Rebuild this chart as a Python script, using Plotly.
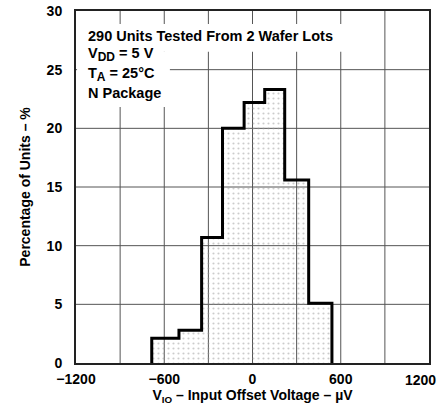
import plotly.graph_objects as go

# Histogram data
bin_edges = [-685, -500, -346, -204, -57, 83, 219, 382, 540]
percent = [2.1, 2.8, 10.7, 20.0, 22.2, 23.3, 15.6, 5.1]

x_gridvals = [-900, -600, -300, 0, 300, 600, 900]
x_tickvals = [-1200, -600, 0, 600, 1200]
x_ticktext = ["\u22121200", "\u2212600", "0", "600", "1200"]
y_tickvals = [0, 5, 10, 15, 20, 25, 30]

SUB = '<sub><span style="font-size:12px">{}</span></sub>'
info_lines = [
    "290 Units Tested From 2 Wafer Lots",
    "V" + SUB.format("DD") + " = 5 V",
    "T" + SUB.format("A") + " = 25\u00b0C",
    "N Package",
]

FONT = "Liberation Sans, Arial, Helvetica, sans-serif"
GRID = "#555"

# step outline built from the bin edges / heights
xs = [bin_edges[0]] + bin_edges[:-1] + [bin_edges[-1]]
ys = [0] + percent + [0]

fig = go.Figure()
fig.add_trace(go.Scatter(
    x=xs, y=ys, mode="lines", line=dict(shape="hv", color="black", width=3),
    fill="tozeroy", fillcolor="rgba(0,0,0,0)",
    fillpattern=dict(shape=".", fgcolor="#999999", bgcolor="rgba(0,0,0,0)",
                     size=5, solidity=0.15),
    hoverinfo="skip", showlegend=False,
))

# grid lines (drawn as shapes so the text block can mask them)
for v in x_gridvals:
    fig.add_shape(type="line", xref="x", yref="paper", x0=v, x1=v, y0=0, y1=1,
                  line=dict(color=GRID, width=1), layer="below")
for v in y_tickvals[1:-1]:
    fig.add_shape(type="line", xref="paper", yref="y", x0=0, x1=1, y0=v, y1=v,
                  line=dict(color=GRID, width=1), layer="below")

# white masks behind the info text (hide grid)
fig.add_shape(type="rect", xref="paper", yref="paper", x0=0.003, x1=0.762,
              y0=0.884, y1=0.963, fillcolor="white", line_width=0, layer="below")
fig.add_shape(type="rect", xref="paper", yref="paper", x0=0.003, x1=0.266,
              y0=0.727, y1=0.885, fillcolor="white", line_width=0, layer="below")

ys_px = [0.929, 0.876, 0.821, 0.767]
for t, yy in zip(info_lines, ys_px):
    fig.add_annotation(text=t, xref="paper", yref="paper", x=0.028, y=yy,
                       xanchor="left", yanchor="middle", showarrow=False,
                       font=dict(family=FONT, size=14.5, color="black", weight="bold"))

# last x tick label, right-aligned so it stays inside the figure
fig.add_annotation(text=x_ticktext[-1], xref="x", yref="paper",
                   x=x_tickvals[-1], y=0, xanchor="right", yanchor="middle",
                   xshift=9, yshift=-17, showarrow=False,
                   font=dict(family=FONT, size=14, color="black", weight="bold"))

fig.update_layout(
    width=441, height=408,
    margin=dict(l=76, r=12, t=11, b=45),
    paper_bgcolor="white", plot_bgcolor="white",
    font=dict(family=FONT, size=14, color="black", weight="bold"),
    xaxis=dict(range=[-1200, 1200], tickvals=x_tickvals[:-1], ticktext=x_ticktext[:-1],
               showgrid=False, automargin=False,
               showline=True, mirror=True, linecolor="#222", linewidth=2,
               ticks="", zeroline=False, ticklabelstandoff=2,
               title=dict(text="V<sub>IO</sub> \u2013 Input Offset Voltage \u2013 \u00b5V",
                          standoff=0, font=dict(size=14, weight="bold"))),
    yaxis=dict(range=[0, 30], tickvals=y_tickvals,
               showgrid=False, automargin=False,
               showline=True, mirror=True, linecolor="#222", linewidth=2,
               ticks="", zeroline=False, ticklabelstandoff=9,
               title=dict(text="Percentage of Units \u2013 %", standoff=13,
                          font=dict(size=14, weight="bold"))),
)

fig.write_html("out.html", config={"displayModeBar": False},
               post_script="document.body.style.margin='0';")
